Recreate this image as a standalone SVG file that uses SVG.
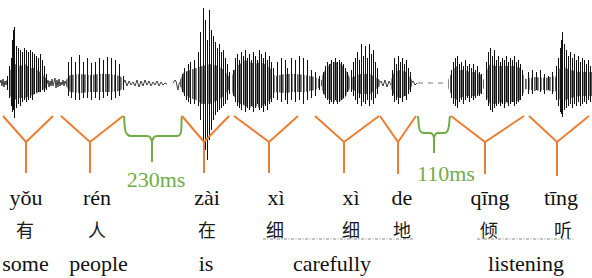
<svg xmlns="http://www.w3.org/2000/svg" width="592" height="278" viewBox="0 0 592 278">
<defs>
<pattern id="stripe" x="0" y="0" width="3" height="10" patternUnits="userSpaceOnUse">
<rect x="0" y="0" width="1" height="10" fill="#5e5e5e"/>
<rect x="1" y="0" width="1" height="10" fill="#8a8a8a"/>
</pattern>
</defs>
<style>
.core{fill:url(#stripe)}
.spk{fill:none;stroke:#111;stroke-width:1}
.noise{fill:none;stroke:#2a2a2a;stroke-width:0.9}
.y{fill:none;stroke:#ED7D31;stroke-width:2}
.br{fill:none;stroke:#70AD47;stroke-width:2}
.ms{font-family:"Liberation Serif",serif;font-size:22px;fill:#70AD47;text-anchor:middle}
.py{font-family:"Liberation Serif",serif;font-size:22px;fill:#111;text-anchor:middle}
.en{font-family:"Liberation Serif",serif;font-size:22px;fill:#111;text-anchor:middle}
.zh{font-family:"Noto Sans CJK SC",sans-serif;font-size:18px;fill:#1a1a1a;text-anchor:middle}
.ul{fill:none;stroke:#888;stroke-width:1;stroke-dasharray:3 1.5 1 1.5}
</style>
<g id="waveform">
<path class="noise" d="M0,83 L1,80 2,86 3,79 4,87 5,81 6,85 7,80 M47,84 L48,80 49,87 50,81 51,86 52,79 53,86 54,82 55,78 56,88 57,80 58,87 59,79 60,86 61,82 62,85 63,80 64,86 65,81 66,84 M123,84 L125,80 127,86 129,81 131,85 133,82 135,86 137,80 139,87 141,81 143,86 145,80 147,85 149,81 151,86 153,82 155,85 157,81 159,86 161,82 163,85 165,83 167,84 M173,83 L175,80 176,81 177,86 178,90 179,84 180,82 M379,84 L381,81 383,86 385,80 387,87 389,81 391,85 M411,84 L413,81 415,85 417,83"/>
<path d="M418,83 H447" fill="none" stroke="#777" stroke-width="1" stroke-dasharray="5 5"/>
<path class="core" d="M8,76 L12,66 16,64 20,66 25,64 30,68 35,68 40,72 46,78 L46,88 40,92 35,94 30,96 25,98 20,98 14,100 8,94 Z"/>
<path class="core" d="M66,80 L70,75 80,74 90,75 100,74 110,74 120,76 124,80 L124,86 120,91 110,92 100,92 90,92 80,93 70,92 66,86 Z"/>
<path class="core" d="M180,80 L184,72 190,70 196,68 202,66 210,64 218,66 224,70 230,78 L230,88 224,96 218,100 210,104 202,104 196,100 190,98 184,94 180,86 Z"/>
<path class="core" d="M232,76 L236,66 240,64 245,60 250,62 255,64 260,62 265,64 270,68 275,76 L275,92 270,100 265,104 260,108 255,106 250,108 245,106 240,104 236,100 232,92 Z"/>
<path class="core" d="M275,76 L285,74 295,74 305,75 315,77 322,80 L322,86 315,90 305,92 295,92 285,93 275,92 Z"/>
<path class="core" d="M322,76 L326,68 330,64 335,62 340,63 345,68 350,78 L350,88 345,98 340,101 335,102 330,100 326,98 322,90 Z"/>
<path class="core" d="M350,78 L360,74 370,74 380,80 L380,86 370,94 360,94 350,88 Z"/>
<path class="core" d="M391,80 L394,72 400,70 406,72 412,80 L412,86 406,96 400,98 394,96 391,88 Z"/>
<path class="core" d="M448,80 L452,72 456,66 460,70 465,70 470,72 475,72 480,74 484,80 L484,88 480,94 475,96 470,96 465,96 460,98 456,100 452,96 448,88 Z"/>
<path class="core" d="M485,80 L486,72 490,64 495,66 500,66 505,66 510,66 515,66 520,68 525,78 L525,90 520,100 515,102 510,102 505,104 500,102 495,104 490,104 486,96 485,88 Z"/>
<path class="core" d="M525,79 L535,77 545,78 555,76 L555,92 545,90 535,91 525,89 Z"/>
<path class="core" d="M555,78 L558,70 562,66 570,70 580,72 592,72 L592,96 580,96 570,98 562,102 558,98 555,90 Z"/>
<path class="spk" transform="translate(0.5,0)" d="M7,76V90M9,66V98M11,58V106M12,40V112M13,30V110M14,27V118M16,46V108M18,48V104M20,50V106M22,52V102M24,48V100M26,50V102M28,52V100M30,50V98M32,52V100M34,54V94M36,56V92M38,58V92M40,54V92M42,60V90M44,66V92M46,74V90
M68,62V96M71,57V98M75,62V100M79,55V100M83,62V98M87,58V98M91,63V100M95,62V98M99,58V100M103,60V98M107,57V96M111,58V100M115,60V98M119,64V96M123,76V90
M182,74V92M184,68V96M186,72V100M188,64V102M190,62V104M194,60V104M198,52V106M200,32V120M203,8V168M205,20V150M207,40V160M209,10V140M211,30V130M213,36V120M215,42V115M217,48V112M219,44V110M221,52V108M223,50V106M225,58V104M227,64V100M229,72V94
M233,70V96M235,58V102M237,54V106M239,60V108M241,52V110M243,56V104M245,50V112M247,58V108M249,54V110M251,60V106M253,52V112M255,56V108M257,60V104M259,50V110M261,54V108M263,58V112M265,52V106M267,60V110M269,56V104M271,62V102M273,68V98
M277,62V100M281,58V102M285,60V100M287,68V104M291,58V100M295,60V102M299,56V100M303,58V104M307,60V100M311,70V98M315,72V96M319,76V90
M323,72V94M325,66V98M327,62V100M329,64V104M331,60V102M333,62V104M335,58V100M337,62V104M339,60V102M341,62V100M343,64V98M345,68V96M347,72V92
M351,70V92M353,62V96M355,58V100M357,52V104M359,60V98M361,44V106M363,56V102M365,46V104M367,58V100M369,44V106M371,54V100M373,50V104M375,62V98M377,68V94
M392,70V96M394,58V102M396,64V100M398,56V104M400,62V98M402,58V102M404,64V96M406,60V100M408,68V94M410,72V92
M451,70V98M453,62V104M455,58V106M457,56V108M459,64V102M461,62V100M463,66V104M465,60V100M467,66V98M469,64V102M471,68V98M473,64V100M475,70V98M477,66V96M479,72V96M481,74V94
M486,62V100M488,52V106M490,48V110M492,56V112M494,50V108M496,60V106M498,56V104M500,62V106M502,58V104M504,60V108M506,56V102M508,62V106M510,58V104M512,60V102M514,56V106M516,62V104M518,60V102M520,64V100M522,70V96
M528,72V94M532,70V94M536,72V90M540,70V92M544,74V94M548,76V90M552,72V94
M556,66V100M558,58V106M560,48V112M561,40V114M562,32V117M564,44V110M566,50V108M568,56V106M570,52V104M572,58V108M574,54V104M576,60V106M578,56V102M580,62V106M582,58V104M584,60V102M586,64V104M588,60V100M590,66V102"/>
</g>
<g id="connectors">
<path class="br" d="M124,116 C125,126 124,132 127,134 Q128,136 132,136 H147 Q151,136 152,142 V162 M152,142 Q153,136 157,136 H177 Q180,136 181,132 C182,126 181,120 182,116"/>
<path class="br" d="M418,116 C419,124 418,130 421,132 Q422,133 425,133 H430 Q433,133 434,138 V153 M434,138 Q435,133 438,133 H444 Q447,133 448,130 C450,124 449,120 450,116"/>
<path class="ul" d="M263,239 H413 M477,239 H574"/>
</g>
<g id="y1"><path class="y" d="M3,116 L26,142 L53,116 M26,142 V173"/></g>
<g id="y2"><path class="y" d="M61,116 L90,142 L123,116 M90,142 V173"/></g>
<g id="y3"><path class="y" d="M182,116 L204,142 L229,116 M204,142 V173"/></g>
<g id="y4"><path class="y" d="M234,116 L269,142 L298,116 M269,142 V173"/></g>
<g id="y5"><path class="y" d="M315,116 L344,142 L379,116 M344,142 V173"/></g>
<g id="y6"><path class="y" d="M380,116 L398,142 L416,116 M398,142 V174"/></g>
<g id="y7"><path class="y" d="M451,116 L485,142 L524,116 M485,142 V174"/></g>
<g id="y8"><path class="y" d="M529,116 L557,142 L589,116 M557,142 V176"/></g>
<g id="gaps">
<text class="ms" x="156" y="187">230ms</text>
<text class="ms" x="446" y="181">110ms</text>
</g>
<g id="words">
<text class="py" x="26" y="205">yǒu</text>
<text class="py" x="97" y="205">rén</text>
<text class="py" x="207" y="205">zài</text>
<text class="py" x="276" y="205">xì</text>
<text class="py" x="351" y="205">xì</text>
<text class="py" x="402" y="205">de</text>
<text class="py" x="490" y="205">qīng</text>
<text class="py" x="561" y="205">tīng</text>
<text class="zh" x="25" y="237">有</text>
<text class="zh" x="97" y="237">人</text>
<text class="zh" x="207" y="237">在</text>
<text class="zh" x="275" y="237">细</text>
<text class="zh" x="351" y="237">细</text>
<text class="zh" x="402" y="237">地</text>
<text class="zh" x="489" y="237">倾</text>
<text class="zh" x="563" y="237">听</text>
<text class="en" x="25.5" y="271">some</text>
<text class="en" x="98.5" y="271">people</text>
<text class="en" x="206" y="271">is</text>
<text class="en" x="332" y="271">carefully</text>
<text class="en" x="526" y="271">listening</text>
</g>
</svg>
